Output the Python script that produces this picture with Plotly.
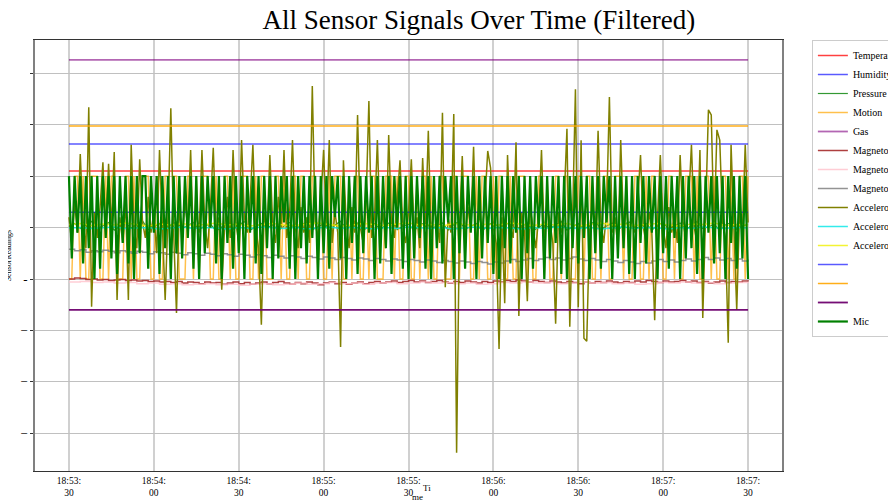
import pandas as pd
import plotly.graph_objects as go

# ---------------- data ----------------
start = "2025-01-01 18:53:30"
t = pd.date_range(start, periods=241, freq="s")          # 1 s samples
t2 = t[::2]                                               # 2 s samples
t4 = t[::4]                                               # 4 s samples
t_end = [t[0], t[-1]]

temperature = [2.10, 2.10]
humidity = [2.625, 2.625]
gas = [4.26, 4.26]
series12 = [1.30, 1.30]
series13 = [2.975, 2.975]
series14 = [-0.60, -0.60]

pressure = [1.02,1.08,0.98,1.05,1.12,0.97,1.04,1.10,0.95,1.03, 1.09,0.99,1.06,1.13,0.96,1.02,1.08,0.94,1.05,1.11,
            0.98,1.04,1.10,0.96,1.03,1.07,0.93,1.01,1.09,0.97, 1.05,1.12,0.95,1.02,1.08,0.99,1.06,0.94,1.03,1.10,
            0.97,1.04,1.11,0.96,1.02,1.07,0.93,1.05,1.12,0.98, 1.03,1.09,0.95,1.01,1.08,0.97,1.04,1.13,0.96,1.02,
            1.07,0.94,1.05,1.10,0.98,1.03,1.09,0.95,1.06,1.12, 0.97,1.02,1.08,0.93,1.04,1.11,0.99,1.05,1.10,0.96,
            1.03,1.09,0.94,1.01,1.07,0.98,1.05,1.12,0.95,1.02, 1.08,0.97,1.04,1.14,0.96,1.03,1.09,0.94,1.06,1.11,
            0.98,1.02,1.08,0.95,1.05,1.10,0.97,1.03,1.09,0.96, 1.04,1.12,0.98,1.01,1.07,0.94,1.05,1.10,0.97,1.03,
            1.06]

motion = [0,0,2,2,0,2,0,0,2,2, 2,0,0,2,0,2,2,0,0,0, 2,2,0,2,0,0,2,2,2,0, 0,2,0,0,2,2,0,2,2,0,
          0,0,2,2,0,2,0,2,2,2, 0,0,2,0,0,2,2,0,2,0, 0,2,2,2,0,0,2,0,2,2, 0,0,0,2,2,0,2,0,0,2,
          2,0,2,2,0,0,2,2,0,2, 0,0,2,0,2,2,2,0,0,2, 0,2,2,0,0,2,0,2,2,0, 0,0,2,2,2,0,2,0,0,2,
          2,0,0,2,0,2,2,0,2,0, 0,2,2,0,0,0,2,2,0,2, 2,2,0,0,2,0,2,2,0,0, 2,0,2,2,0,0,2,0,0,2,
          2,2,0,2,0,0,2,2,0,2, 0,0,2,2,0,2,2,0,0,0, 2,2,0,2,2,0,0,2,0,2, 2,0,0,2,2,2,0,2,0,0,
          2,2,0,0,2,0,2,2,0,2, 0,0,2,2,0,2,0,0,2,2, 2,0,2,0,0,2,2,0,2,0, 0,2,2,0,2,0,0,2,2,0,
          2]

mag_x = [0.00,0.02,0.01,-0.01,0.00,-0.02,-0.01,-0.03,-0.02,-0.01, -0.03,-0.02,-0.04,-0.03,-0.05,-0.04,-0.06,-0.05,-0.07,-0.05,
         -0.08,-0.06,-0.07,-0.09,-0.06,-0.08,-0.07,-0.10,-0.08,-0.06, -0.09,-0.07,-0.10,-0.08,-0.06,-0.09,-0.07,-0.05,-0.08,-0.10,
         -0.07,-0.09,-0.06,-0.08,-0.11,-0.08,-0.06,-0.09,-0.07,-0.10, -0.08,-0.06,-0.09,-0.07,-0.05,-0.08,-0.06,-0.04,-0.07,-0.05,
         -0.03,-0.06,-0.04,-0.07,-0.05,-0.03,-0.06,-0.08,-0.05,-0.07, -0.04,-0.06,-0.08,-0.05,-0.07,-0.04,-0.06,-0.03,-0.05,-0.02,
         -0.04,-0.06,-0.03,-0.05,-0.07,-0.04,-0.06,-0.08,-0.05,-0.07, -0.09,-0.06,-0.08,-0.05,-0.07,-0.04,-0.06,-0.08,-0.05,-0.07,
         -0.04,-0.06,-0.03,-0.05,-0.07,-0.04,-0.06,-0.05,-0.03,-0.06, -0.04,-0.07,-0.05,-0.08,-0.06,-0.04,-0.07,-0.05,-0.06,-0.04,
         -0.05]

mag_y = [-0.06,-0.05,-0.07,-0.06,-0.08,-0.07,-0.09,-0.08,-0.10,-0.09, -0.11,-0.10,-0.09,-0.11,-0.10,-0.12,-0.10,-0.09,-0.11,-0.10,
         -0.08,-0.10,-0.09,-0.07,-0.09,-0.08,-0.10,-0.08,-0.07,-0.09, -0.08,-0.06,-0.08,-0.07,-0.09,-0.08,-0.10,-0.09,-0.07,-0.08,
         -0.06,-0.08,-0.07,-0.09,-0.08,-0.06,-0.08,-0.07,-0.09,-0.08, -0.10,-0.09,-0.07,-0.08,-0.06,-0.08,-0.07,-0.09,-0.08,-0.07,
         -0.08]

mag_z = [0.58,0.55,0.57,0.52,0.55,0.53,0.56,0.54,0.51,0.55, 0.53,0.50,0.54,0.52,0.49,0.53,0.51,0.48,0.52,0.50,
         0.47,0.51,0.49,0.46,0.50,0.48,0.45,0.49,0.47,0.44, 0.48,0.46,0.43,0.47,0.45,0.42,0.46,0.44,0.41,0.45,
         0.43,0.40,0.44,0.42,0.39,0.43,0.41,0.38,0.42,0.40, 0.37,0.41,0.39,0.36,0.40,0.38,0.35,0.39,0.37,0.34,
         0.38,0.36,0.33,0.37,0.35,0.32,0.36,0.34,0.31,0.35, 0.33,0.30,0.34,0.32,0.29,0.33,0.31,0.35,0.38,0.34,
         0.37,0.40,0.36,0.39,0.42,0.38,0.41,0.37,0.40,0.43, 0.39,0.36,0.40,0.37,0.34,0.38,0.35,0.32,0.36,0.33,
         0.30,0.34,0.31,0.35,0.38,0.34,0.37,0.33,0.36,0.39, 0.35,0.38,0.42,0.38,0.41,0.37,0.40,0.36,0.39,0.35,
         0.38]

acc_x = [1.2,0.7,1.5,0.9,2.43,1.1,0.6,3.34,-0.54,1.3, 0.8,1.4,2.27,0.9,2.24,1.0,2.47,-0.41,1.2,0.7,
         1.5,-0.41,2.61,1.0,0.6,2.33,1.1,0.8,1.6,0.9, 1.3,0.5,2.51,1.0,-0.41,1.2,3.32,0.9,-0.66,1.4,
         0.8,1.5,1.0,2.51,0.7,1.3,0.9,2.51,1.1,0.6, 1.4,2.55,0.9,1.2,-0.21,1.0,1.6,0.8,2.51,1.1,
         0.7,2.70,1.2,0.9,1.5,2.61,1.0,0.6,-0.89,1.3, 0.9,2.41,1.1,0.7,1.6,1.0,2.51,0.8,1.3,2.70,
         1.0,0.6,1.4,0.9,1.2,0.7,3.75,1.1,0.8,1.5, 2.51,1.0,2.70,0.7,1.3,0.9,-1.32,2.31,1.1,0.6,
         1.4,0.9,3.19,1.0,0.7,1.5,3.46,0.8,1.2,2.70, 0.9,1.3,0.6,2.80,1.1,0.8,1.5,2.31,1.0,0.7,
         1.3,2.33,0.9,1.2,0.6,2.35,1.0,2.88,0.8,1.4, 1.1,0.7,3.23,-0.16,1.2,0.9,3.21,-3.38,1.0,2.39,
         0.8,1.4,1.0,2.57,0.6,1.3,0.9,1.5,2.49,2.16, 1.0,0.7,-1.36,1.2,-0.47,2.41,1.0,0.8,2.66,-0.72,
         1.3,0.9,-0.43,1.4,1.0,0.6,1.2,2.51,0.8,1.5, 1.1,0.7,-0.87,1.3,0.9,1.5,2.92,-0.93,1.2,3.69,
         -0.55,2.70,-1.15,-1.21,1.0,1.4,0.8,2.88,1.1,0.7, 1.3,3.54,0.9,1.2,0.6,2.70,1.0,1.4,0.8,1.2,
         0.9,1.5,2.41,1.0,0.7,1.3,0.9,-0.80,1.2,2.41, 1.0,0.6,1.4,0.9,1.2,0.7,2.41,1.1,0.8,1.5,
         2.61,1.0,0.7,2.51,-0.76,1.2,3.29,3.19,0.9,2.90, 2.70,1.1,0.8,-1.24,2.61,1.0,-0.60,1.3,0.9,2.61,
         1.1]

acc_y = [0.99,1.00,0.98,0.99,1.01,0.98,0.99,1.00,0.97,0.99, 1.01,0.98,1.00,0.99,0.97,1.00,0.98,1.01,0.99,0.98,
         1.00,0.97,0.99,1.01,0.98,1.00,0.99,0.97,1.00,0.98, 1.01,0.99,0.98,1.00,0.97,0.99,1.01,0.98,1.00,0.99,
         0.97,1.00,0.98,1.01,0.99,0.98,1.00,0.97,0.99,1.01, 0.98,1.00,0.99,0.97,1.00,0.98,1.01,0.99,0.98,1.00,
         0.99]

acc_z = [1.06,1.08,1.04,1.07,1.05,1.09,1.06,1.03,1.07,1.05, 1.08,1.04,1.06,1.09,1.05,1.07,1.03,1.06,1.08,1.05,
         1.04,1.07,1.09,1.06,1.03,1.05,1.08,1.06,1.04,1.07, 1.09,1.05,1.06,1.03,1.08,1.06,1.04,1.07,1.05,1.09,
         1.06,1.04,1.07,1.05,1.08,1.03,1.06,1.09,1.05,1.07, 1.04,1.06,1.08,1.05,1.03,1.07,1.06,1.09,1.04,1.06,
         1.05]

mic = [2,0.4,2,0.9,2,0.3,2,0.6,2,0.0,2,0.2,2,0.8,2,0.4,2,0.1,2,0.7,
       2,0.3,2,0.0,2,0.5,2,2,0.2,2,0.9,2,0.1,2,0.6,2,0.0,2,0.5,2,
       0.4,2,0.8,2,0.2,2,0.0,2,0.5,2,1.0,2,0.3,2,0.0,2,0.7,2,0.2,2,
       0.5,2,0.0,2,0.9,2,0.3,2,0.1,2,0.6,2,0.0,2,0.4,2,1.1,2,0.2,2,
       0.0,2,0.6,2,0.3,2,0.8,2,0.0,2,0.5,2,0.2,2,1.2,2,0.4,2,0.0,2,
       0.7,2,0.1,2,0.5,2,0.9,2,0.0,2,0.3,2,0.6,2,0.1,2,1.0,2,0.2,2,
       0.0,2,0.4,2,0.8,2,0.2,2,0.0,2,0.6,2,0.3,2,1.1,2,0.0,2,0.5,2,
       0.2,2,0.9,2,0.0,2,0.4,2,0.7,2,0.1,2,0.0,2,0.6,2,0.3,2,0.9,2,
       0.0,2,0.5,2,0.2,2,1.0,2,0.0,2,0.4,2,0.7,2,0.1,2,0.0,2,0.6,2,
       0.3,2,0.8,2,0.0,2,0.5,2,0.2,2,1.1,2,0.0,2,0.4,2,0.6,2,0.1,2,
       0.0,2,0.7,2,0.3,2,0.9,2,0.0,2,0.5,2,0.2,2,0.8,2,0.0,2,0.4,2,
       0.6,2,0.1,2,0.0,2,0.9,2,0.3,2,0.5,2,0.0,2,0.7,2,0.2,2,0.4,2,
       0.0]

x_tick_times = pd.date_range(start, periods=9, freq="30s")
y_tick_vals = [-3, -2, -1, 0, 1, 2, 3, 4]
y_tick_text = ["\u2212", "\u2212", "\u2212", "-", "", "", "", ""]

# ---------------- figure ----------------
FONT = "Liberation Serif, Times New Roman, serif"
fig = go.Figure()

def add(x, y, name, color, width=1.5, shape="linear"):
    fig.add_trace(go.Scatter(x=list(x)[:len(y)], y=y, mode="lines", name=name,
                             line=dict(color=color, width=width, shape=shape)))

add(t_end, temperature, "Temperature", "rgba(255,0,0,0.75)")
add(t_end, humidity, "Humidity", "rgba(0,0,255,0.65)")
add(t2, pressure, "Pressure", "rgba(0,128,0,0.8)", 1.2)
add(t, motion, "Motion", "rgba(255,165,0,0.7)", 1.5)
add(t_end, gas, "Gas", "rgba(128,0,128,0.6)", 1.8)
add(t2, mag_x, "Magnetometer X", "rgba(165,42,42,0.9)", 1.5, "hv")
add(t4, mag_y, "Magnetometer Y", "rgba(255,192,203,0.8)", 1.5, "hv")
add(t2, mag_z, "Magnetometer Z", "rgba(128,128,128,0.85)", 1.5, "hv")
add(t, acc_x, "Accelerometer X", "rgba(128,128,0,1)", 1.5)
add(t4, acc_y, "Accelerometer Y", "rgba(0,230,230,0.8)", 1.5)
add(t4, acc_z, "Accelerometer Z", "rgba(240,240,0,0.8)", 1.5)
add(t_end, series12, " ", "rgba(0,0,255,0.65)")
add(t_end, series13, "  ", "rgba(255,165,0,0.9)")
add(t_end, series14, "   ", "rgba(110,0,110,0.95)", 1.8)
add(t, mic, "Mic", "rgba(0,128,0,1)", 2.2)

# page body has an 8 px margin, so the figure is drawn at (8, 8)
fig.update_layout(
    width=880, height=494,
    margin=dict(l=27, r=106, t=32, b=31, autoexpand=False),
    paper_bgcolor="white", plot_bgcolor="white",
    font=dict(family=FONT, size=10, color="black"),
    title=dict(text="All Sensor Signals Over Time (Filtered)", x=0.535, xanchor="center",
               y=0.976, yanchor="middle", font=dict(family=FONT, size=27, color="black")),
    showlegend=True,
    legend=dict(x=1.04, xanchor="left", y=1.0, yanchor="top", bgcolor="white",
                bordercolor="#cccccc", borderwidth=1, font=dict(family=FONT, size=10),
                itemwidth=30, tracegroupgap=0),
    annotations=[
        dict(text="Ti", xref="paper", yref="paper", x=0.5245, y=-0.024, xanchor="center",
             yanchor="top", showarrow=False, font=dict(family=FONT, size=9)),
        dict(text="me", xref="paper", yref="paper", x=0.5125, y=-0.043, xanchor="center",
             yanchor="top", showarrow=False, font=dict(family=FONT, size=9)),
        dict(text="SensorReadings", xref="paper", yref="paper", x=-0.035, y=0.5, xanchor="center",
             yanchor="middle", textangle=-90, showarrow=False, font=dict(family=FONT, size=8)),
    ],
)

fig.update_xaxes(
    type="date",
    range=[pd.Timestamp("2025-01-01 18:53:18"), pd.Timestamp("2025-01-01 18:57:42")],
    tickvals=list(x_tick_times),
    ticktext=[d.strftime("%H:%M:") + "<br>" + d.strftime("%S") for d in x_tick_times],
    showgrid=True, gridcolor="#d0d0d0", gridwidth=1.5,
    showline=True, linecolor="#333333", linewidth=1.2, mirror=True,
    ticks="", zeroline=False, tickfont=dict(family=FONT, size=9.5),
)
fig.update_yaxes(
    range=[-3.733, 4.647],
    tickvals=y_tick_vals, ticktext=y_tick_text,
    showgrid=True, gridcolor="#c0c0c0", gridwidth=1,
    showline=True, linecolor="#808080", linewidth=1.5, mirror=True,
    ticks="outside", ticklen=3, tickcolor="#333333", zeroline=False,
    tickfont=dict(family=FONT, size=13),
)

fig.write_html("out.html")
